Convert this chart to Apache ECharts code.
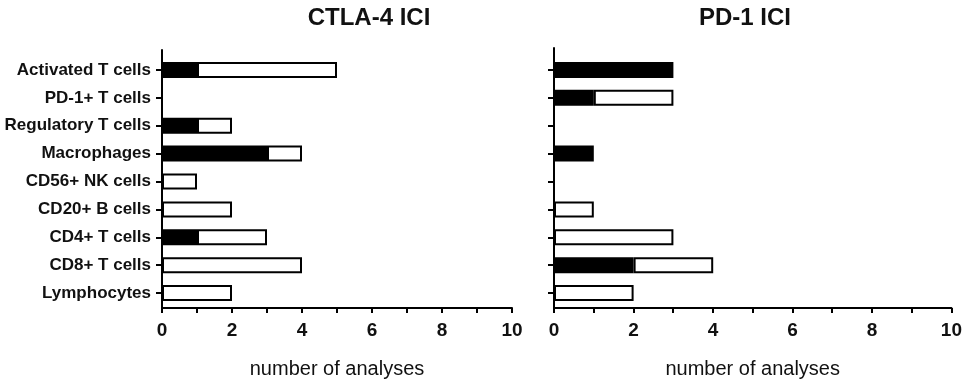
<!DOCTYPE html>
<html><head><meta charset="utf-8">
<script src="https://cdn.jsdelivr.net/npm/echarts@6/dist/echarts.min.js"></script>
<style>html,body{margin:0;padding:0;background:#fff}#c{width:965px;height:384px}</style>
</head><body><div id="c"></div>
<script>
// Categories, top to bottom
const categories = ['Activated T cells','PD-1+ T cells','Regulatory T cells','Macrophages','CD56+ NK cells','CD20+ B cells','CD4+ T cells','CD8+ T cells','Lymphocytes'];
// CTLA-4 ICI: black segment and white segment (total = black + white)
const ctlaBlack = [1,0,1,3,0,0,1,0,0];
const ctlaWhite = [4,0,1,1,1,2,2,4,2];
// PD-1 ICI
const pd1Black = [3,1,0,1,0,0,0,2,0];
const pd1White = [0,2,0,0,0,1,3,2,2];
const xTicks = [0,2,4,6,8,10];
const titles = ['CTLA-4 ICI','PD-1 ICI'];
const axisTitle = 'number of analyses';

const FONT = 'Liberation Sans';
const chart = echarts.init(document.getElementById('c'));
const nz = a => a.map(v => v === 0 ? '-' : v);

const panels = [
  {left:162, width:350, frameTop:50, titleX:364, black:ctlaBlack, white:ctlaWhite, showLabels:true},
  {left:554, width:398, frameTop:48, titleX:740, black:pd1Black, white:pd1White, showLabels:false}
];
const grid=[], xAxis=[], yAxis=[], series=[], title=[];
panels.forEach((p,i)=>{
  const gf = grid.length;
  grid.push({left:p.left, width:p.width, top:p.frameTop, height:311.5-p.frameTop, containLabel:false});
  grid.push({left:p.left, width:p.width, top:56, height:251, containLabel:false});
  // frame axes
  xAxis.push({gridIndex:gf, type:'value', min:0, max:10, interval:1,
    axisLine:{show:true, lineStyle:{color:'#000', width:2}},
    axisTick:{show:true, inside:false, length:5, lineStyle:{color:'#000', width:2}},
    splitLine:{show:false},
    axisLabel:{color:'#111', fontFamily:FONT, fontWeight:'bold', fontSize:19, margin:13,
      formatter:v => xTicks.includes(v) ? String(v) : ''},
    name:axisTitle, nameLocation:'middle', nameGap:51,
    nameTextStyle:{color:'#111', fontFamily:FONT, fontSize:20}
  });
  yAxis.push({gridIndex:gf, type:'value', min:0, max:1,
    axisLine:{show:true, lineStyle:{color:'#000', width:2}},
    axisTick:{show:false}, axisLabel:{show:false}, splitLine:{show:false}});
  // bar axes
  xAxis.push({gridIndex:gf+1, type:'value', min:0, max:10, show:false});
  yAxis.push({gridIndex:gf+1, type:'category', data:categories, inverse:true,
    axisLine:{show:false},
    axisTick:{show:true, alignWithLabel:true, length:6, lineStyle:{color:'#000', width:2}},
    axisLabel:{show:p.showLabels, color:'#111', fontFamily:FONT, fontWeight:'bold', fontSize:17, margin:11}
  });
  const ax = xAxis.length-1;
  series.push({type:'bar', xAxisIndex:ax, yAxisIndex:ax, stack:'s'+i, data:nz(p.black), barWidth:16,
    itemStyle:{color:'#000', borderColor:'#000', borderWidth:2}, silent:true});
  series.push({type:'bar', xAxisIndex:ax, yAxisIndex:ax, stack:'s'+i, data:nz(p.white), barWidth:16,
    itemStyle:{color:'#fff', borderColor:'#000', borderWidth:2}, silent:true});
  title.push({text:titles[i], left:p.titleX, top:1, textAlign:'center',
    textStyle:{color:'#111', fontFamily:FONT, fontWeight:'bold', fontSize:24}});
});
chart.setOption({animation:false, backgroundColor:'#fff', title, grid, xAxis, yAxis, series});
</script></body></html>
